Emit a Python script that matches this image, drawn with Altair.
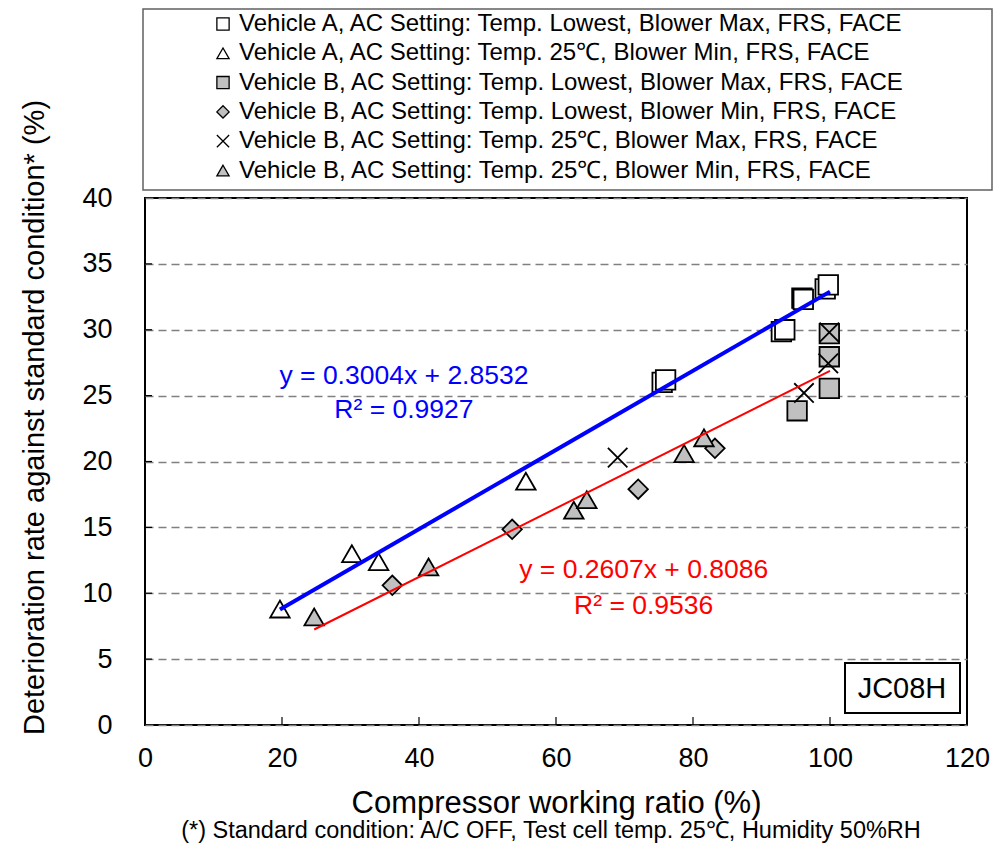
import altair as alt
import pandas as pd

# ---------------- data ----------------
series_names = [
    "Vehicle A, AC Setting: Temp. Lowest, Blower Max, FRS, FACE",
    "Vehicle A, AC Setting: Temp. 25℃, Blower Min, FRS, FACE",
    "Vehicle B, AC Setting: Temp. Lowest, Blower Max, FRS, FACE",
    "Vehicle B, AC Setting: Temp. Lowest, Blower Min, FRS, FACE",
    "Vehicle B, AC Setting: Temp. 25℃, Blower Max, FRS, FACE",
    "Vehicle B, AC Setting: Temp. 25℃, Blower Min, FRS, FACE",
]

a_low_max_x = [75.5, 76.0, 92.9, 93.4, 95.9, 96.1, 99.3, 99.75]
a_low_max_y = [26.0, 26.2, 29.85, 30.0, 32.4, 32.3, 33.1, 33.4]

a_25_min_x = [19.7, 30.2, 34.1, 55.6]
a_25_min_y = [8.8, 13.0, 12.4, 18.5]

b_low_max_x = [95.2, 99.9, 99.9, 99.9]
b_low_max_y = [23.85, 25.55, 27.95, 29.7]

b_low_min_x = [36.1, 53.6, 72.0, 83.2]
b_low_min_y = [10.6, 14.85, 17.9, 21.0]

b_25_max_x = [69.0, 96.2, 99.75, 99.9]
b_25_max_y = [20.3, 25.2, 27.45, 29.8]

b_25_min_x = [24.7, 41.4, 62.6, 64.5, 78.7, 81.6]
b_25_min_y = [8.2, 12.0, 16.3, 17.1, 20.6, 21.8]

# regression fits shown on the chart
fit_names = ["Vehicle A", "Vehicle B"]
fit_slope = [0.3004, 0.2607]
fit_intercept = [2.8532, 0.8086]
fit_x_start = [19.7, 24.7]
fit_x_end = [100.0, 100.0]
fit_eq_text = ["y = 0.3004x + 2.8532", "y = 0.2607x + 0.8086"]
fit_r2_text = ["R² = 0.9927", "R² = 0.9536"]
fit_label_x = [37.8, 72.8]
fit_eq_y = [26.5, 11.75]
fit_r2_y = [23.9, 9.0]
fit_colors = ["#0000ff", "#ff0000"]

x_tick_values = [0, 20, 40, 60, 80, 100, 120]
y_tick_values = [0, 5, 10, 15, 20, 25, 30, 35, 40]

shape_range = ["square", "triangle-up", "square", "diamond",
               "M-1,-1L1,1M-1,1L1,-1", "triangle-up"]
fill_range = ["white", "white", "#c0c0c0", "#c0c0c0", "transparent", "#c0c0c0"]
stroke_range = ["black"] * 6

FONT = "Liberation Sans"

# ---------------- tables ----------------
xs = [a_low_max_x, a_25_min_x, b_low_max_x, b_low_min_x, b_25_max_x, b_25_min_x]
ys = [a_low_max_y, a_25_min_y, b_low_max_y, b_low_min_y, b_25_max_y, b_25_min_y]
rows = []
for name, sx, sy in zip(series_names, xs, ys):
    for xv, yv in zip(sx, sy):
        rows.append({"series": name, "x": xv, "y": yv})
pts = pd.DataFrame(rows)
pts["order"] = range(len(pts))

fit_rows = []
for i, n in enumerate(fit_names):
    for xv in (fit_x_start[i], fit_x_end[i]):
        fit_rows.append({"fit": n, "x": xv, "slope": fit_slope[i], "icpt": fit_intercept[i]})
fits = pd.DataFrame(fit_rows)

labels = pd.DataFrame({
    "fit": fit_names * 2,
    "text": fit_eq_text + fit_r2_text,
    "x": fit_label_x * 2,
    "y": fit_eq_y + fit_r2_y,
})

xscale = alt.Scale(domain=[0, 120], nice=False, zero=False)
yscale = alt.Scale(domain=[0, 40], nice=False, zero=False)

one = pd.DataFrame({"k": [0]})

# legend frame (decoration)
legend_box = alt.Chart(one).mark_rect(fill="white", stroke="#606060", strokeWidth=1.5).encode(
    x=alt.value(-2), x2=alt.value(847), y=alt.value(-189), y2=alt.value(-8)
)

legend_def = alt.Legend(
    title=None, orient="none", legendX=66, legendY=-186,
    labelFont=FONT, labelFontSize=24, labelColor="black", labelLimit=900,
    symbolSize=150, symbolStrokeColor="black", symbolStrokeWidth=1.3,
    rowPadding=5.3, labelOffset=4, padding=0,
)

points = alt.Chart(pts).mark_point(
    size=380, strokeWidth=1.8, opacity=1, filled=False
).encode(
    x=alt.X("x:Q", scale=xscale, axis=alt.Axis(
        values=x_tick_values, grid=False, title="Compressor working ratio (%)",
        titleFontSize=31, titleY=78, titleBaseline="middle", labelPadding=20,
        labelFlush=False)),
    y=alt.Y("y:Q", scale=yscale, axis=alt.Axis(
        values=y_tick_values, grid=True, gridDash=[8, 5], gridColor="#808080", gridWidth=1.5,
        title="Deterioration rate against standard condition* (%)",
        titleFontSize=29, titleAngle=270, titleX=-111, titleY=219,
        titleAlign="center", titleBaseline="middle", labelPadding=33, labelFlush=False)),
    shape=alt.Shape("series:N", scale=alt.Scale(domain=series_names, range=shape_range), legend=legend_def),
    fill=alt.Fill("series:N", scale=alt.Scale(domain=series_names, range=fill_range), legend=legend_def),
    stroke=alt.Stroke("series:N", scale=alt.Scale(domain=series_names, range=stroke_range), legend=legend_def),
    order=alt.Order("order:Q"),
)

tick_y = alt.Chart(pd.DataFrame({"v": y_tick_values[1:-1]})).mark_rule(color="black", strokeWidth=1.2).encode(
    y=alt.Y("v:Q", scale=yscale), x=alt.value(0), x2=alt.value(7)
)
tick_x = alt.Chart(pd.DataFrame({"v": x_tick_values[1:-1]})).mark_rule(color="black", strokeWidth=1.2).encode(
    x=alt.X("v:Q", scale=xscale), y=alt.value(527), y2=alt.value(519)
)

def fit_line(name, color, width):
    return alt.Chart(fits).transform_filter(
        alt.datum.fit == name
    ).transform_calculate(
        yfit="datum.slope * datum.x + datum.icpt"
    ).mark_line(color=color, strokeWidth=width).encode(
        x=alt.X("x:Q", scale=xscale), y=alt.Y("yfit:Q", scale=yscale)
    )

line_a = fit_line("Vehicle A", fit_colors[0], 4)
line_b = fit_line("Vehicle B", fit_colors[1], 2)

eq_text = alt.Chart(labels).mark_text(font=FONT, fontSize=26.5, align="center", baseline="middle").encode(
    x=alt.X("x:Q", scale=xscale), y=alt.Y("y:Q", scale=yscale), text="text:N",
    color=alt.Color("fit:N", scale=alt.Scale(domain=fit_names, range=fit_colors), legend=None),
)

jc_box = alt.Chart(one).mark_rect(fill="white", stroke="black", strokeWidth=2).encode(
    x=alt.value(700), x2=alt.value(815), y=alt.value(465), y2=alt.value(515)
)
jc_text = alt.Chart(one).mark_text(font=FONT, fontSize=29, align="center", baseline="middle", color="black").encode(
    x=alt.value(757), y=alt.value(491), text=alt.value("JC08H")
)
note = alt.Chart(one).mark_text(font=FONT, fontSize=23.5, align="center", baseline="middle", color="black").encode(
    x=alt.value(406), y=alt.value(633),
    text=alt.value("(*) Standard condition: A/C OFF, Test cell temp. 25℃, Humidity 50%RH")
)

chart = alt.layer(
    legend_box, points, tick_y, tick_x, line_a, line_b, eq_text, jc_box, jc_text, note
).properties(
    width=822, height=527,
    padding={"left": 137, "top": 190, "right": 27, "bottom": 120},
    autosize=alt.AutoSizeParams(type="none"),
).configure(
    font=FONT
).configure_view(
    stroke="black", strokeWidth=2
).configure_axis(
    labelFont=FONT, labelFontSize=27, labelColor="black", titleFont=FONT,
    titleColor="black", titleFontWeight="normal", domain=False, ticks=False,
)

chart.save("out.html", embed_options={"renderer": "svg", "actions": False})
